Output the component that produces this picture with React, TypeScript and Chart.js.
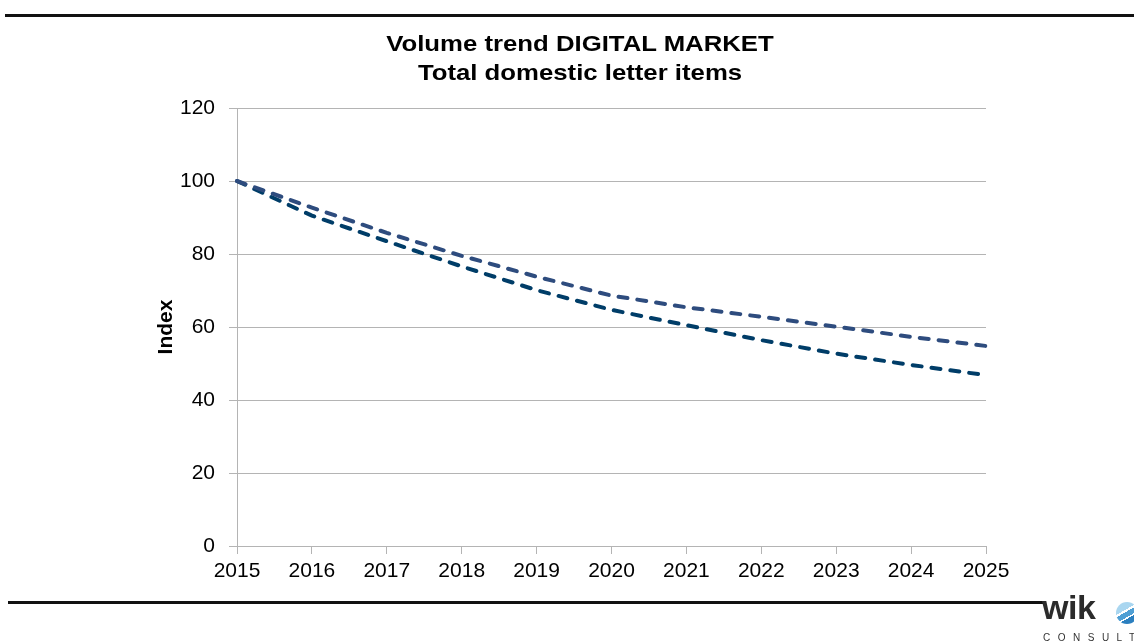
import React, { useEffect, useRef } from "react";
import { Chart, registerables } from "chart.js";

Chart.register(...registerables);

const years = ["2015", "2016", "2017", "2018", "2019", "2020", "2021", "2022", "2023", "2024", "2025"];
const seriesUpper = [100, 92.7, 85.8, 79.5, 73.8, 68.6, 65.4, 62.8, 60.1, 57.3, 54.8];
const seriesLower = [100, 90.5, 83.5, 76.6, 70.1, 64.7, 60.5, 56.4, 52.7, 49.6, 46.8];
const titleLines = ["Volume trend DIGITAL MARKET", "Total domestic letter items"];
const yAxisTitle = "Index";
const yMin = 0;
const yMax = 120;
const yStep = 20;

const FONT = "'Liberation Sans', Arial, Helvetica, sans-serif";
const GRID = "#b4b4b4";

export default function App() {
  const canvasRef = useRef<HTMLCanvasElement | null>(null);

  useEffect(() => {
    const canvas = canvasRef.current;
    if (!canvas) return;
    const chart = new Chart(canvas, {
      type: "line",
      data: {
        labels: years,
        datasets: [
          {
            label: "Scenario A",
            data: seriesUpper,
            borderColor: "#2e4c7e",
            borderWidth: 4,
            borderDash: [9, 10],
            borderCapStyle: "round",
            pointRadius: 0,
            tension: 0,
            fill: false,
          },
          {
            label: "Scenario B",
            data: seriesLower,
            borderColor: "#003d68",
            borderWidth: 4,
            borderDash: [9, 10],
            borderCapStyle: "round",
            pointRadius: 0,
            tension: 0,
            fill: false,
          },
        ],
      },
      options: {
        animation: false,
        responsive: false,
        maintainAspectRatio: false,
        devicePixelRatio: 1,
        layout: { padding: { left: 150, right: 148, top: 108, bottom: 58 } },
        plugins: {
          legend: { display: false },
          title: { display: false },
          tooltip: { enabled: false },
        },
        scales: {
          x: {
            type: "category",
            offset: false,
            grid: { drawOnChartArea: false, drawTicks: true, tickLength: 8, color: GRID, lineWidth: 1 },
            border: { color: GRID, width: 1 },
            ticks: {
              font: { family: FONT, size: 21 },
              color: "#000",
              padding: 5,
              maxRotation: 0,
              autoSkip: false,
            },
            afterFit: (s: any) => {
              s.height = 40;
            },
          },
          y: {
            min: yMin,
            max: yMax,
            grid: { color: GRID, lineWidth: 1, tickLength: 8 },
            border: { color: GRID, width: 1 },
            ticks: {
              stepSize: yStep,
              font: { family: FONT, size: 21 },
              color: "#000",
              padding: 14,
            },
            title: {
              display: true,
              text: yAxisTitle,
              color: "#000",
              font: { family: FONT, size: 21, weight: "bold" },
              padding: { top: 4, bottom: 0 },
            },
            afterFit: (s: any) => {
              s.width = 87;
            },
          },
        },
      },
    });
    return () => chart.destroy();
  }, []);

  return (
    <div
      style={{
        position: "fixed",
        left: 0,
        top: 0,
        width: 1134,
        height: 644,
        overflow: "hidden",
        background: "#fff",
        fontFamily: FONT,
      }}
    >
      <canvas ref={canvasRef} width={1134} height={644} style={{ position: "absolute", left: 0, top: 0, width: 1134, height: 644 }} />
      <div style={{ position: "absolute", left: 5, top: 14, width: 1129, height: 3, background: "#111" }} />
      <div style={{ position: "absolute", left: 8, top: 601, width: 1036, height: 3, background: "#111" }} />
      <div
        style={{
          position: "absolute",
          left: 280,
          width: 600,
          top: 29,
          textAlign: "center",
          fontWeight: "bold",
          fontSize: 22,
          lineHeight: "29px",
          color: "#000",
          transform: "scaleX(1.17)",
          transformOrigin: "50% 0",
        }}
      >
        {titleLines.map((t) => (
          <div key={t}>{t}</div>
        ))}
      </div>
      <div
        style={{
          position: "absolute",
          left: 1042,
          top: 590,
          fontSize: 34,
          fontWeight: "bold",
          lineHeight: "34px",
          color: "#2b2b2b",
          letterSpacing: -0.5,
        }}
      >
        wik
      </div>
      <div
        style={{
          position: "absolute",
          left: 1116,
          top: 602,
          width: 22,
          height: 22,
          borderRadius: "50%",
          background:
            "linear-gradient(150deg, #a9d6f0 0%, #a9d6f0 38%, #ffffff 38%, #ffffff 45%, #4f9fd4 45%, #4f9fd4 62%, #ffffff 62%, #ffffff 67%, #2b7fbf 67%, #2b7fbf 100%)",
        }}
      />
      <div
        style={{
          position: "absolute",
          left: 1043,
          top: 632,
          fontSize: 10,
          lineHeight: "12px",
          letterSpacing: 7.5,
          color: "#333",
          whiteSpace: "nowrap",
        }}
      >
        CONSULT
      </div>
    </div>
  );
}
